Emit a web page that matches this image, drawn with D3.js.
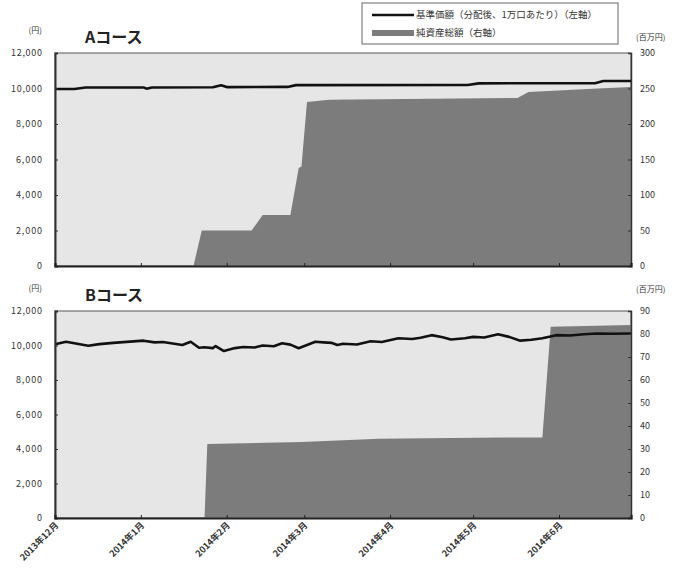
<!DOCTYPE html>
<html>
<head>
<meta charset="utf-8">
<script src="https://cdn.jsdelivr.net/npm/d3@7"></script>
<style>
  body { margin: 0; background: #fff; }
  text { font-family: "Noto Sans CJK JP", "Noto Sans", sans-serif; }
</style>
</head>
<body>
<script>
// months shown on the x axis
const monthTicks = ["2013-12-01", "2014-01-01", "2014-02-01", "2014-03-01", "2014-04-01", "2014-05-01", "2014-06-01"];
const monthLabels = ["2013年12月", "2014年1月", "2014年2月", "2014年3月", "2014年4月", "2014年5月", "2014年6月"];

// A course: NAV (yen, per 10,000 units) and net assets (million yen)
const navADates = ["2013-12-01", "2013-12-08", "2013-12-12", "2014-01-02", "2014-01-03", "2014-01-05", "2014-01-27", "2014-01-30", "2014-02-01", "2014-02-23", "2014-02-26", "2014-04-29", "2014-05-03", "2014-06-14", "2014-06-17", "2014-06-27"];
const navAValues = [9970, 9975, 10060, 10060, 9990, 10060, 10070, 10180, 10080, 10090, 10190, 10200, 10290, 10300, 10420, 10420];
const assetADates = ["2013-12-01", "2014-01-20", "2014-01-23", "2014-02-10", "2014-02-14", "2014-02-24", "2014-02-27", "2014-02-28", "2014-03-02", "2014-03-10", "2014-05-17", "2014-05-21", "2014-06-15", "2014-06-27"];
const assetAValues = [0, 0, 50, 50, 72, 72, 138, 140, 231, 234, 236.6, 245, 250, 252];

// B course
const navBDates = ["2013-12-01", "2013-12-05", "2013-12-09", "2013-12-13", "2013-12-17", "2013-12-22", "2014-01-02", "2014-01-06", "2014-01-09", "2014-01-16", "2014-01-19", "2014-01-22", "2014-01-24", "2014-01-27", "2014-01-28", "2014-01-31", "2014-02-04", "2014-02-07", "2014-02-11", "2014-02-14", "2014-02-18", "2014-02-21", "2014-02-24", "2014-02-27", "2014-03-05", "2014-03-08", "2014-03-11", "2014-03-13", "2014-03-15", "2014-03-20", "2014-03-25", "2014-03-29", "2014-04-04", "2014-04-09", "2014-04-12", "2014-04-16", "2014-04-20", "2014-04-23", "2014-04-28", "2014-05-01", "2014-05-05", "2014-05-10", "2014-05-14", "2014-05-18", "2014-05-22", "2014-05-26", "2014-05-31", "2014-06-05", "2014-06-10", "2014-06-15", "2014-06-20", "2014-06-27"];
const navBValues = [10070, 10220, 10100, 9990, 10080, 10150, 10280, 10180, 10200, 10030, 10220, 9870, 9900, 9850, 9970, 9680, 9850, 9910, 9880, 10000, 9960, 10130, 10050, 9840, 10220, 10180, 10150, 10030, 10100, 10060, 10250, 10200, 10420, 10380, 10450, 10600, 10480, 10350, 10420, 10500, 10460, 10650, 10500, 10280, 10330, 10420, 10600, 10580, 10650, 10700, 10680, 10700];
const assetBDates = ["2013-12-01", "2014-01-24", "2014-01-25", "2014-02-28", "2014-03-28", "2014-05-11", "2014-05-26", "2014-05-29", "2014-06-27"];
const assetBValues = [0, 0, 32.2, 33, 34.5, 35, 35, 83.2, 83.9];

const parse = d3.timeParse("%Y-%m-%d");
const zip = (ds, vs) => ds.map((d, i) => ({ date: parse(d), value: vs[i] }));

const width = 685, height = 576;
const left = 55, right = 631;

const svg = d3.select("body").append("svg")
  .attr("width", width)
  .attr("height", height);

const x = d3.scaleTime()
  .domain([parse("2013-12-01"), parse("2014-06-27")])
  .range([left, right]);

const fmt = d3.format(",");

function panel(cfg) {
  const yL = d3.scaleLinear().domain([0, 12000]).range([cfg.bottom, cfg.top]);
  const yR = d3.scaleLinear().domain([0, cfg.rightMax]).range([cfg.bottom, cfg.top]);
  const g = svg.append("g");

  g.append("rect")
    .attr("x", left).attr("y", cfg.top)
    .attr("width", right - left).attr("height", cfg.bottom - cfg.top)
    .attr("fill", "#e6e6e6")
    .attr("stroke", "#555").attr("stroke-width", 1);

  g.append("path")
    .datum(cfg.assets)
    .attr("fill", "#7c7c7c")
    .attr("d", d3.area().x(d => x(d.date)).y0(cfg.bottom).y1(d => yR(d.value)));

  g.append("path")
    .datum(cfg.nav)
    .attr("fill", "none")
    .attr("stroke", "#111")
    .attr("stroke-width", 2.6)
    .attr("stroke-linejoin", "round")
    .attr("d", d3.line().x(d => x(d.date)).y(d => yL(d.value)));

  // left axis
  const la = g.append("g").attr("transform", `translate(${left},0)`)
    .call(d3.axisRight(yL).tickValues(d3.range(0, 12001, 2000)).tickSize(3).tickFormat(""));
  la.select(".domain").attr("stroke", "#333").attr("stroke-width", 2);
  la.selectAll(".tick line").attr("stroke", "#333");
  g.selectAll(".ltxt").data(d3.range(0, 12001, 2000)).join("text")
    .attr("x", 42).attr("y", d => yL(d)).attr("dy", "0.35em")
    .attr("text-anchor", "end").attr("font-size", 9).attr("fill", "#333")
    .attr("textLength", d => d === 0 ? null : (d >= 10000 ? 31 : 26))
    .text(d => fmt(d));

  // right axis
  const ra = g.append("g").attr("transform", `translate(${right},0)`)
    .call(d3.axisLeft(yR).ticks(cfg.rightMax / cfg.rightStep).tickSize(3).tickFormat(""));
  ra.select(".domain").attr("stroke", "#333").attr("stroke-width", 1.5);
  ra.selectAll(".tick line").attr("stroke", "#333");
  g.selectAll(".rtxt").data(d3.range(0, cfg.rightMax + 1, cfg.rightStep)).join("text")
    .attr("x", 640).attr("y", d => yR(d)).attr("dy", "0.35em")
    .attr("font-size", 9).attr("fill", "#333")
    .text(d => d);

  // bottom axis
  const ba = g.append("g").attr("transform", `translate(0,${cfg.bottom})`)
    .call(d3.axisTop(x).tickValues(monthTicks.map(parse)).tickSize(3).tickFormat(""));
  ba.select(".domain").attr("stroke", "#222").attr("stroke-width", 2.2);
  ba.selectAll(".tick line").attr("stroke", "#222");

  g.append("text").attr("x", 42).attr("y", cfg.top - 20)
    .attr("text-anchor", "end").attr("font-size", 8).attr("fill", "#333").text("(円)");
  g.append("text").attr("x", 636).attr("y", cfg.unitY)
    .attr("font-size", 8).attr("fill", "#333").text("(百万円)");
  g.append("text").attr("x", 85).attr("y", cfg.top - 10)
    .attr("font-size", 16).attr("font-weight", "bold").attr("fill", "#222").text(cfg.title);

  return g;
}

panel({ top: 53, bottom: 266, rightMax: 300, rightStep: 50, unitY: 40, title: "Aコース",
        nav: zip(navADates, navAValues), assets: zip(assetADates, assetAValues) });
const gB = panel({ top: 311, bottom: 518, rightMax: 90, rightStep: 10, unitY: 292, title: "Bコース",
        nav: zip(navBDates, navBValues), assets: zip(assetBDates, assetBValues) });

// x labels under B
gB.selectAll(".xl").data(monthTicks).join("text")
  .attr("transform", d => `translate(${x(parse(d)) + 4},${526}) rotate(-45)`)
  .attr("text-anchor", "end").attr("font-size", 9).attr("font-weight", "bold").attr("fill", "#333")
  .text((d, i) => monthLabels[i]);

// legend
const lg = svg.append("g");
lg.append("rect").attr("x", 362).attr("y", 3).attr("width", 256).attr("height", 41)
  .attr("fill", "#fff").attr("stroke", "#666").attr("stroke-width", 1);
lg.append("line").attr("x1", 372).attr("x2", 414).attr("y1", 15).attr("y2", 15)
  .attr("stroke", "#111").attr("stroke-width", 2.6);
lg.append("rect").attr("x", 372).attr("y", 30).attr("width", 42).attr("height", 6).attr("fill", "#7c7c7c");
lg.append("text").attr("x", 416).attr("y", 15).attr("dy", "0.35em")
  .attr("font-size", 9.5).attr("fill", "#333").text("基準価額（分配後、1万口あたり）（左軸）");
lg.append("text").attr("x", 416).attr("y", 33).attr("dy", "0.35em")
  .attr("font-size", 9.5).attr("fill", "#333").text("純資産総額（右軸）");
</script>
</body>
</html>
